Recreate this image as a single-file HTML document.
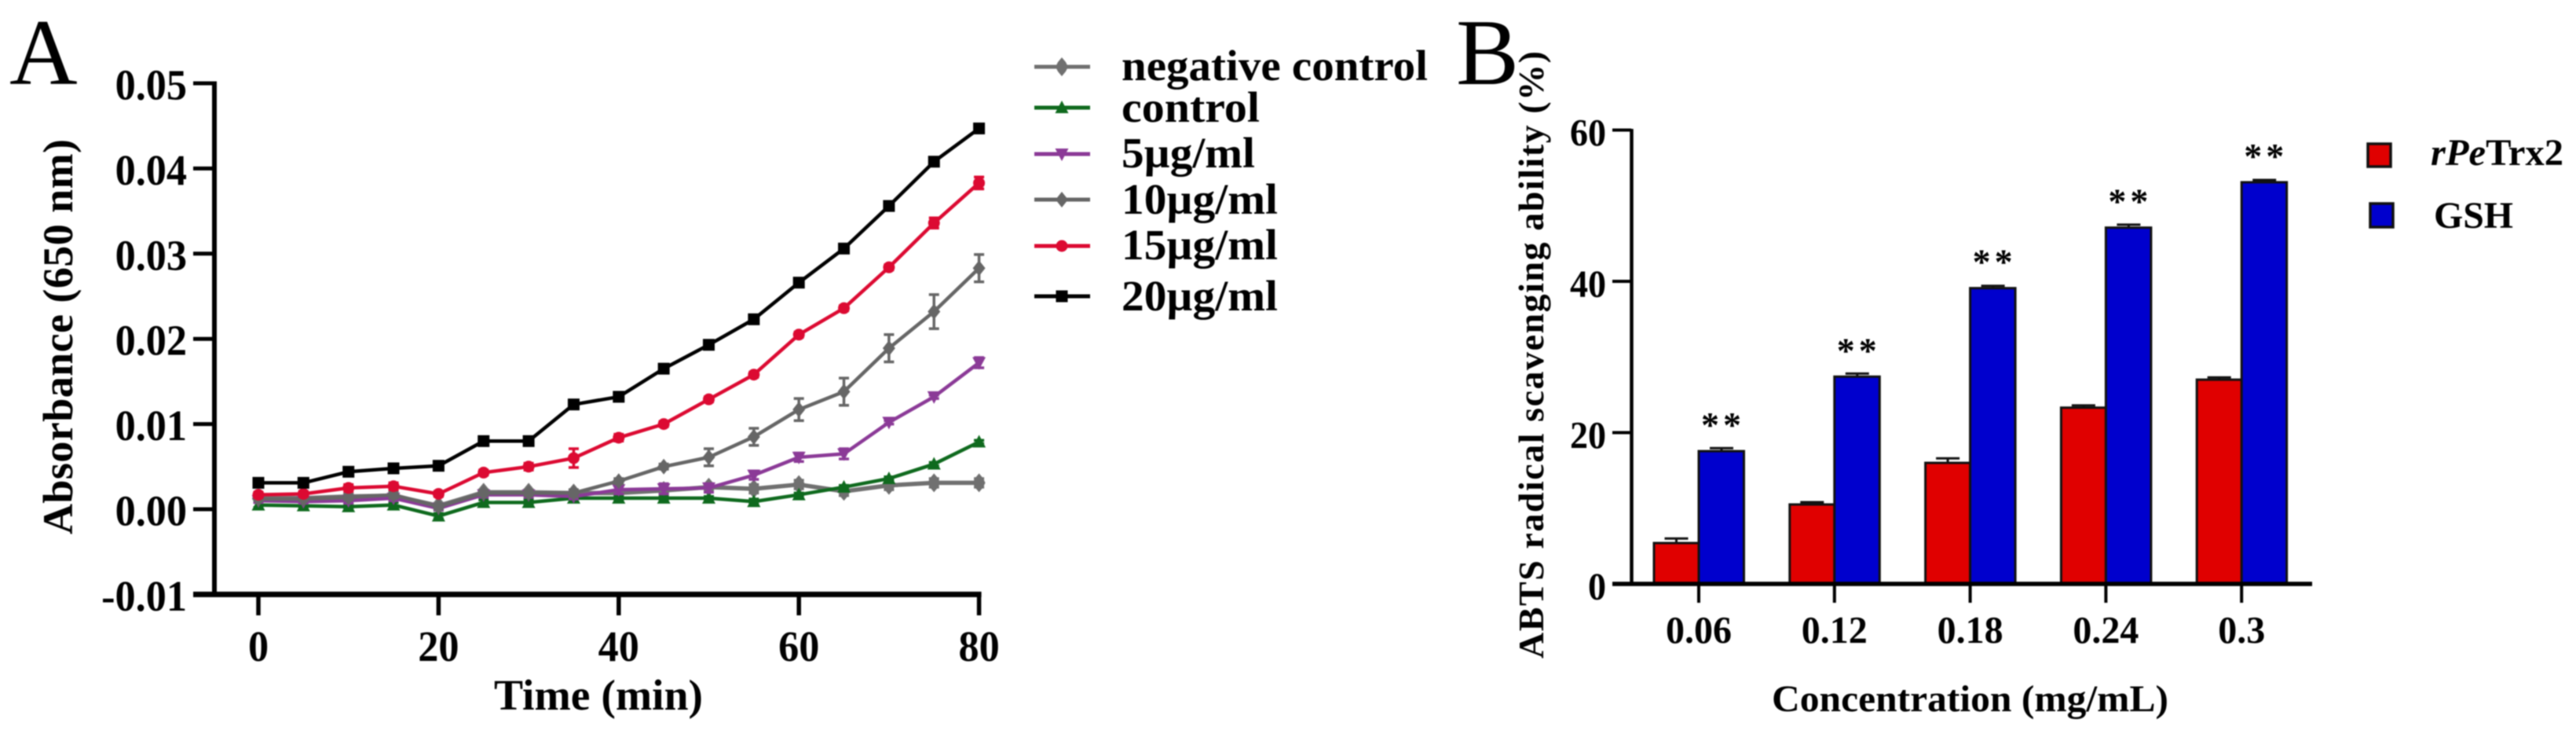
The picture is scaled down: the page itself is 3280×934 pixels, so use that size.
<!DOCTYPE html>
<html lang="en">
<head>
<meta charset="utf-8">
<title>Absorbance and ABTS radical scavenging charts</title>
<style>
html,body{margin:0;padding:0;background:#fff;width:3280px;height:934px;overflow:hidden}
svg{display:block;filter:blur(0.8px)}
text{font-family:"Liberation Serif",serif;font-weight:bold;fill:#000}
</style>
</head>
<body>
<svg id="fig" xmlns="http://www.w3.org/2000/svg" width="3280" height="934" viewBox="0 0 3280 934">
  <rect width="3280" height="934" fill="#fff"/>
  <text x="12" y="107" font-size="120" style="font-weight:normal">A</text>
  <text x="1854" y="107" font-size="120" style="font-weight:normal">B</text>
  <text x="92" y="680" font-size="54" textLength="503" lengthAdjust="spacing" transform="rotate(-90 92 680)">Absorbance (650 nm)</text>
  <text x="629" y="903" font-size="55" textLength="266" lengthAdjust="spacingAndGlyphs">Time (min)</text>
  <text x="1965" y="838" font-size="46" textLength="773" lengthAdjust="spacing" transform="rotate(-90 1965 838)">ABTS radical scavenging ability (%)</text>
  <text x="2256" y="905" font-size="48" textLength="505" lengthAdjust="spacingAndGlyphs">Concentration (mg/mL)</text>
  <g id="chartA"></g>
  <g id="chartB"></g>

  <g>
    <text x="1428" y="102" font-size="55" textLength="390" lengthAdjust="spacingAndGlyphs">negative control</text>
    <text x="1428" y="155" font-size="55" textLength="176" lengthAdjust="spacingAndGlyphs">control</text>
    <text x="1428" y="213" font-size="55" textLength="170" lengthAdjust="spacingAndGlyphs">5µg/ml</text>
    <text x="1428" y="272" font-size="55" textLength="199" lengthAdjust="spacingAndGlyphs">10µg/ml</text>
    <text x="1428" y="330" font-size="55" textLength="199" lengthAdjust="spacingAndGlyphs">15µg/ml</text>
    <text x="1428" y="395" font-size="55" textLength="199" lengthAdjust="spacingAndGlyphs">20µg/ml</text>
  </g>
  <g>
    <rect x="3015" y="183" width="29" height="29" fill="#e00000" stroke="#111" stroke-width="3.5"/>
    <rect x="3018" y="259" width="29" height="30" fill="#0000cd" stroke="#111" stroke-width="3.5"/>
    <text x="3095" y="210" font-size="48" textLength="169" lengthAdjust="spacingAndGlyphs"><tspan font-style="italic">rPe</tspan>Trx2</text>
    <text x="3099" y="290" font-size="48" textLength="101" lengthAdjust="spacingAndGlyphs">GSH</text>
  </g>
</svg>
<script>
// ---- Panel A data ----
const times = [0,5,10,15,20,25,30,35,40,45,50,55,60,65,70,75,80];
const xTicksA = [0,20,40,60,80];
const yTicksA = [-0.01,0,0.01,0.02,0.03,0.04,0.05];
const negativeControl = [.0013,.0013,.0015,.0016,.0004,.0020,.0020,.0019,.0019,.0022,.0026,.0024,.0029,.0021,.0028,.0031,.0031];
const controlValues = [.0005,.0004,.0003,.0005,-.0008,.0008,.0008,.0013,.0013,.0013,.0013,.0009,.0017,.0026,.0036,.0053,.0079];
const dose5 = [.0010,.0009,.0010,.0013,.0001,.0017,.0017,.0015,.0023,.0024,.0025,.0040,.0061,.0065,.0102,.0132,.0172];
const dose10 = [.0012,.0012,.0014,.0017,.0003,.0019,.0019,.0019,.0033,.0050,.0061,.0085,.0117,.0138,.0189,.0232,.0283];
const dose15 = [.0017,.0018,.0025,.0027,.0018,.0043,.0050,.0060,.0084,.0100,.0129,.0158,.0205,.0236,.0284,.0336,.0383];
const dose20 = [.0031,.0031,.0044,.0048,.0051,.0080,.0080,.0123,.0132,.0165,.0193,.0223,.0266,.0306,.0356,.0408,.0447];
const negativeErr = [.0003,.0003,.0003,.0003,.0003,.0003,.0003,.0003,.0003,.0003,.0003,.0005,.0005,.0005,.0005,.0005,.0005];
const controlErr = [.0003,.0003,.0003,.0003,.0003,.0003,.0003,.0002,.0002,.0002,.0002,.0003,.0002,.0002,.0002,.0002,.0002];
const dose5Err = [.0002,.0002,.0003,.0003,.0002,.0003,.0003,.0003,.0005,.0006,.0005,.0005,.0005,.0006,.0002,.0002,.0006];
const dose10Err = [.0002,.0002,.0003,.0004,.0003,.0003,.0003,.0004,.0003,.0003,.0010,.0010,.0013,.0016,.0016,.0020,.0016];
const dose15Err = [.0003,.0003,.0004,.0004,.0003,.0003,.0004,.0011,.0004,.0003,.0003,.0003,.0003,.0003,.0003,.0006,.0007];
const dose20Err = [.0004,.0003,.0004,.0004,.0003,.0004,.0004,.0004,.0004,.0004,.0003,.0003,.0003,.0003,.0003,.0003,.0003];

// ---- Panel B data ----
const concentrations = ['0.06','0.12','0.18','0.24','0.3'];
const yTicksB = [0,20,40,60];
const rPeTrx2Values = [5.4,10.5,16.0,23.3,27.0];
const gshValues = [17.55,27.4,39.1,47.1,53.1];
const rPeTrx2Err = [0.6,0.3,0.6,0.3,0.3];
const gshErr = [0.4,0.4,0.3,0.4,0.3];

const NS = 'http://www.w3.org/2000/svg';
const xA = t => 329 + t * 11.47;
const yA = v => 648 - v * 10840;
const xB = i => 2163 + i * 172.8;
const yB = v => 743 - v * 9.625;

function labelWidth(str, size, squeeze) {
  let units = 0;
  for (const ch of str) units += ch === '.' ? 0.25 : ch === '-' ? 0.333 : 0.5;
  return units * size * squeeze;
}
function make(parent, tag, attrs, txt) {
  const el = document.createElementNS(NS, tag);
  for (const k in attrs) el.setAttribute(k, attrs[k]);
  if (txt !== undefined) el.textContent = txt;
  parent.appendChild(el);
  return el;
}
function drawLineSeg(parent, x1, y1, x2, y2, color, w) {
  return make(parent, 'line', {x1, y1, x2, y2, stroke: color, 'stroke-width': w});
}
function marker(parent, kind, cx, cy, color) {
  if (kind === 'square') return make(parent, 'rect', {x: cx - 7.5, y: cy - 7.5, width: 15, height: 15, fill: color});
  if (kind === 'circle') return make(parent, 'circle', {cx, cy, r: 7.5, fill: color});
  if (kind === 'up') return make(parent, 'polygon', {points: `${cx},${cy - 9} ${cx + 8.5},${cy + 7} ${cx - 8.5},${cy + 7}`, fill: color});
  if (kind === 'down') return make(parent, 'polygon', {points: `${cx},${cy + 9} ${cx + 8.5},${cy - 7} ${cx - 8.5},${cy - 7}`, fill: color});
  if (kind === 'diamond') return make(parent, 'polygon', {points: `${cx},${cy - 10} ${cx + 8},${cy} ${cx},${cy + 10} ${cx - 8},${cy}`, fill: color});
  return make(parent, 'polygon', {points: `${cx},${cy - 12} ${cx + 5},${cy - 6} ${cx + 8},${cy} ${cx + 5},${cy + 6} ${cx},${cy + 12} ${cx - 5},${cy + 6} ${cx - 8},${cy} ${cx - 5},${cy - 6}`, fill: color});
}

const chartA = document.getElementById('chartA');
const chartB = document.getElementById('chartB');

// Panel A series: drawn lowest first
const seriesA = [
  {name: 'negative-control', vals: negativeControl, errs: negativeErr, color: '#707070', kind: 'star', w: 5.5, legendY: 85},
  {name: 'control', vals: controlValues, errs: controlErr, color: '#0f6a1e', kind: 'up', w: 4.5, legendY: 137},
  {name: 'dose-5', vals: dose5, errs: dose5Err, color: '#8b3a97', kind: 'down', w: 4.5, legendY: 196},
  {name: 'dose-10', vals: dose10, errs: dose10Err, color: '#666666', kind: 'diamond', w: 4.5, legendY: 254},
  {name: 'dose-15', vals: dose15, errs: dose15Err, color: '#dc0a32', kind: 'circle', w: 4.5, legendY: 313},
  {name: 'dose-20', vals: dose20, errs: dose20Err, color: '#000000', kind: 'square', w: 4.5, legendY: 377}
];

seriesA.forEach(s => {
  const g = make(chartA, 'g', {});
  
  
  const line = make(g, 'polyline', {
    points: times.map((t, i) => xA(t) + ',' + yA(s.vals[i])).join(' '),
    fill: 'none', stroke: s.color, 'stroke-width': s.w, 'stroke-linejoin': 'round'
  });
  
  
  times.forEach((t, i) => {
    const cx = xA(t);
    const hi = yA(s.vals[i] + s.errs[i]);
    const lo = yA(s.vals[i] - s.errs[i]);
    const bar = make(g, 'path', {
      d: `M${cx - 6.5} ${hi}H${cx + 6.5}M${cx} ${hi}V${lo}M${cx - 6.5} ${lo}H${cx + 6.5}`,
      fill: 'none', stroke: s.color, 'stroke-width': 3.5
    });
    
    
    const m = marker(g, s.kind, cx, yA(s.vals[i]), s.color);
    
    
  });
  const lg = make(chartA, 'g', {});
  
  
  drawLineSeg(lg, 1317, s.legendY, 1388, s.legendY, s.color, 5);
  marker(lg, s.kind, 1352, s.legendY, s.color);
});

// Panel A axes
const axisAY = drawLineSeg(chartA, 273, yA(0.05) - 2.5, 273, yA(-0.01), '#000', 6);


const axisAX = drawLineSeg(chartA, 246, yA(-0.01), xA(80) + 3, yA(-0.01), '#000', 7);



yTicksA.forEach(v => {
  const tick = drawLineSeg(chartA, 246, yA(v), 273, yA(v), '#000', 5);
  
  
  const str = v.toFixed(2);
  const label = make(chartA, 'text', {x: 238, y: yA(v) + 20.5, 'font-size': 55, 'text-anchor': 'end', textLength: labelWidth(str, 55, 0.95), lengthAdjust: 'spacingAndGlyphs'}, str);
  
  
});
xTicksA.forEach(t => {
  const tick = drawLineSeg(chartA, xA(t), yA(-0.01), xA(t), 783, '#000', 5.5);
  
  
  const str = String(t);
  const label = make(chartA, 'text', {x: xA(t), y: 841, 'font-size': 55, 'text-anchor': 'middle', textLength: labelWidth(str, 55, 0.95), lengthAdjust: 'spacingAndGlyphs'}, str);
  
  
});

// Panel B bars
concentrations.forEach((c, i) => {
  const cx = xB(i);
  const g = make(chartB, 'g', {});
  
  

  const e1 = make(g, 'path', {d: `M${cx - 43.5} ${yB(rPeTrx2Values[i] + rPeTrx2Err[i])}h30M${cx - 28.5} ${yB(rPeTrx2Values[i] + rPeTrx2Err[i])}V${yB(rPeTrx2Values[i])}`, stroke: '#111', 'stroke-width': 3, fill: 'none'});
  
  
  const e2 = make(g, 'path', {d: `M${cx + 14} ${yB(gshValues[i] + gshErr[i])}h30M${cx + 29} ${yB(gshValues[i] + gshErr[i])}V${yB(gshValues[i])}`, stroke: '#111', 'stroke-width': 3, fill: 'none'});
  
  

  const r = make(g, 'rect', {x: cx - 57, y: yB(rPeTrx2Values[i]), width: 57, height: yB(0) - yB(rPeTrx2Values[i]), fill: '#e00000', stroke: '#111', 'stroke-width': 3});
  
  
  const b = make(g, 'rect', {x: cx, y: yB(gshValues[i]), width: 57.5, height: yB(0) - yB(gshValues[i]), fill: '#0000cd', stroke: '#111', 'stroke-width': 3});
  
  

  const st = make(g, 'text', {x: cx + 31, y: yB(gshValues[i]) - 18, 'font-size': 46, 'text-anchor': 'middle', 'letter-spacing': 5}, '**');
  
  
});

// Panel B axes
const axisBY = drawLineSeg(chartB, 2077.5, yB(60) - 1.5, 2077.5, yB(0), '#000', 4.5);


const axisBX = drawLineSeg(chartB, 2053, yB(0), 2944, yB(0), '#000', 5.5);



yTicksB.forEach(v => {
  const tick = drawLineSeg(chartB, 2053, yB(v), 2077, yB(v), '#000', 4);
  
  
  const str = String(v);
  const label = make(chartB, 'text', {x: 2045, y: yB(v) + 19.5, 'font-size': 49, 'text-anchor': 'end', textLength: labelWidth(str, 49, 0.94), lengthAdjust: 'spacingAndGlyphs'}, str);
  
  
});
concentrations.forEach((c, i) => {
  const tick = drawLineSeg(chartB, xB(i), yB(0), xB(i), 767, '#000', 4);
  
  
  const label = make(chartB, 'text', {x: xB(i), y: 818, 'font-size': 49, 'text-anchor': 'middle', textLength: labelWidth(c, 49, 0.98), lengthAdjust: 'spacingAndGlyphs'}, c);
  
  
});
</script>
</body>
</html>
